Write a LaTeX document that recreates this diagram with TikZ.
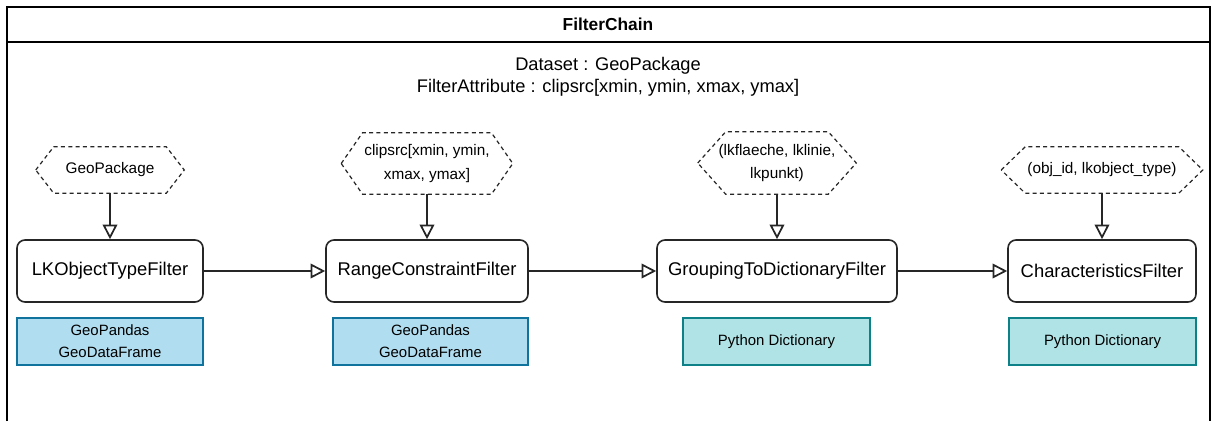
\documentclass[tikz,border=0pt]{standalone}
\usepackage{fontspec}
\setmainfont{Liberation Sans}
\usetikzlibrary{arrows.meta}
\definecolor{frameline}{HTML}{000000}
\definecolor{boxline}{HTML}{262626}
\definecolor{gdffill}{HTML}{B1DDF0}
\definecolor{gdfline}{HTML}{10739E}
\definecolor{dictfill}{HTML}{B0E3E6}
\definecolor{dictline}{HTML}{0E8088}

\begin{document}
\begin{tikzpicture}[x=0.75pt,y=-0.75pt,
  pxw/.style={minimum width=#1*0.75pt},
  pxh/.style={minimum height=#1*0.75pt},
  filterbox/.style={draw=boxline, line width=1.2pt, rounded corners=6pt, fill=white,
    pxh=62, inner sep=0pt, font=\fontsize{13.8}{16}\selectfont},
  databox/.style={line width=0.9pt, pxh=47, inner sep=0pt, align=center,
    font=\fontsize{11.2}{16.5}\selectfont},
  gdf/.style={databox, draw=gdfline, fill=gdffill},
  dict/.style={databox, draw=dictline, fill=dictfill},
  hexnode/.style={inner sep=0pt, align=center, font=\fontsize{11.5}{17.5}\selectfont},
  hexline/.style={draw=boxline, dash pattern=on 3pt off 2.5pt, line width=0.9pt},
  flow/.style={draw=boxline, line width=1.3pt, -{Triangle[open, length=11pt, width=11pt]}},
]
\useasboundingbox (0,0) rectangle (1212,421);
\fill[white] (0,0) rectangle (1212,421);

% container frame (open at the bottom) and header band
\draw[frameline, line width=1.2pt] (7,421) -- (7,7) -- (1210,7) -- (1210,421);
\draw[frameline, line width=1.2pt] (7,42) -- (1210,42);
\node[font=\bfseries\fontsize{13}{15}\selectfont] (title) at (608,24) {FilterChain};
\node[align=center, font=\fontsize{13.7}{16.5}\selectfont] (attrs) at (608,77)
  {Dataset : GeoPackage\\FilterAttribute : clipsrc[xmin, ymin, xmax, ymax]};

% filter stages
\node[filterbox, pxw=186] (f1) at (110,271) {LKObjectTypeFilter};
\node[filterbox, pxw=202] (f2) at (427,271) {RangeConstraintFilter};
\node[filterbox, pxw=240] (f3) at (777,271) {GroupingToDictionaryFilter};
\node[filterbox, pxw=188] (f4) at (1102,271) {CharacteristicsFilter};

% output data types
\node[gdf, pxw=186] (d1) at (110,341.5) {GeoPandas\\GeoDataFrame};
\node[gdf, pxw=195] (d2) at (430.5,341.5) {GeoPandas\\GeoDataFrame};
\node[dict, pxw=187] (d3) at (776.5,341.5) {Python Dictionary};
\node[dict, pxw=187] (d4) at (1102.5,341.5) {Python Dictionary};

% parameter hexagons
\node[hexnode, pxw=148, pxh=46] (h1) at (110,170) {GeoPackage};
\node[hexnode, pxw=171, pxh=61] (h2) at (427,163.5) {clipsrc[xmin, ymin,\\xmax, ymax]};
\node[hexnode, pxw=158, pxh=62] (h3) at (777,163) {(lkflaeche, lklinie,\\lkpunkt)};
\node[hexnode, pxw=201, pxh=46] (h4) at (1102,170) {(obj\_id, lkobject\_type)};

\draw[hexline] (h1.west) -- ([xshift=13.5pt]h1.north west) -- ([xshift=-13.5pt]h1.north east)
  -- (h1.east) -- ([xshift=-13.5pt]h1.south east) -- ([xshift=13.5pt]h1.south west) -- cycle;
\draw[hexline] (h2.west) -- ([xshift=16pt]h2.north west) -- ([xshift=-16pt]h2.north east)
  -- (h2.east) -- ([xshift=-16pt]h2.south east) -- ([xshift=16pt]h2.south west) -- cycle;
\draw[hexline] (h3.west) -- ([xshift=21pt]h3.north west) -- ([xshift=-21pt]h3.north east)
  -- (h3.east) -- ([xshift=-21pt]h3.south east) -- ([xshift=21pt]h3.south west) -- cycle;
\draw[hexline] (h4.west) -- ([xshift=18pt]h4.north west) -- ([xshift=-18pt]h4.north east)
  -- (h4.east) -- ([xshift=-18pt]h4.south east) -- ([xshift=18pt]h4.south west) -- cycle;

% parameters feed the filters
\draw[flow] (h1.south) -- (h1.south |- f1.north);
\draw[flow] (h2.south) -- (h2.south |- f2.north);
\draw[flow] (h3.south) -- (h3.south |- f3.north);
\draw[flow] (h4.south) -- (h4.south |- f4.north);

% chain of filters
\draw[flow] (f1.east) -- (f2.west);
\draw[flow] (f2.east) -- (f3.west);
\draw[flow] (f3.east) -- (f4.west);
\end{tikzpicture}
\end{document}
